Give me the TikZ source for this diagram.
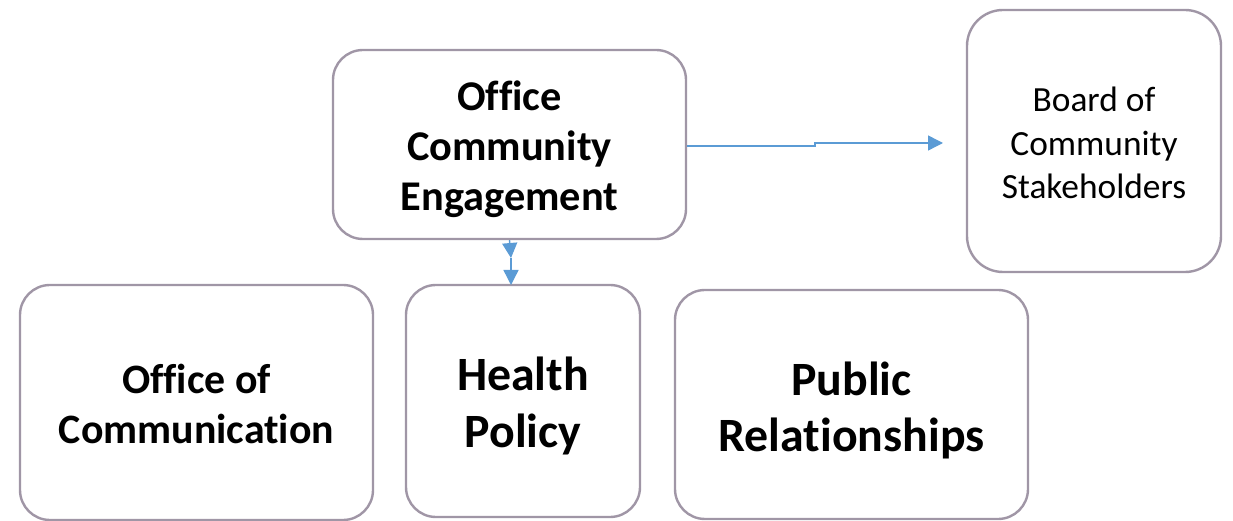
\documentclass[tikz,border=0pt]{standalone}
\usepackage{fontspec}
\setmainfont[Ligatures=NoCommon]{Carlito}
\usetikzlibrary{arrows.meta}
\definecolor{boxline}{RGB}{160,150,166}
\definecolor{arrblue}{RGB}{91,155,213}
\tikzset{
  box/.style={draw=boxline, line width=2.4bp, rounded corners=30bp, fill=white, inner sep=0pt},
  txt/.style={align=center, inner sep=0pt},
  arr/.style={draw=arrblue, line width=1.4bp, -{Triangle[length=15bp,width=15bp]}},
}
\begin{document}
\begin{tikzpicture}[x=1bp,y=-1bp]
\useasboundingbox (0,0) rectangle (1233,521);
\clip (0,0) rectangle (1233,521);
\node[box, minimum width=353bp, minimum height=189bp] (oce) at (509.5,144.5) {};
\node[box, minimum width=254bp, minimum height=262bp, rounded corners=36bp] (board) at (1094,141) {};
\node[box, minimum width=353bp, minimum height=235bp] (ooc) at (196.5,402.5) {};
\node[box, minimum width=234bp, minimum height=232bp] (hp) at (523,401) {};
\node[box, minimum width=353bp, minimum height=229bp] (pr) at (851.5,404.5) {};
\node[txt, font=\fontsize{42.5}{50}\selectfont\bfseries, yshift=-5bp] (ocet) at (oce) {Office\\Community\\Engagement};
\node[txt, font=\fontsize{35.5}{43.5}\selectfont, yshift=-2bp] (boardt) at (board) {Board of\\Community\\Stakeholders};
\node[txt, font=\fontsize{42}{50}\selectfont\bfseries, yshift=-1.5bp] (ooct) at (ooc) {Office of\\Communication};
\node[txt, font=\fontsize{48}{57}\selectfont\bfseries, yshift=-5bp] (hpt) at (hp) {Health\\Policy};
\node[txt, font=\fontsize{48}{57}\selectfont\bfseries, yshift=-6bp] (prt) at (pr) {Public\\Relationships};
\coordinate (mid) at (511,258);
\coordinate (hptop) at (511,285);
\coordinate (bt) at (943,143);
\draw[arr] (oce.south) -- (mid);
\draw[arr] (mid) -- (hptop);
\draw[arr] (oce.east |- 0,146) -- (815,146) -- (815,143) -- (bt);
\end{tikzpicture}
\end{document}
